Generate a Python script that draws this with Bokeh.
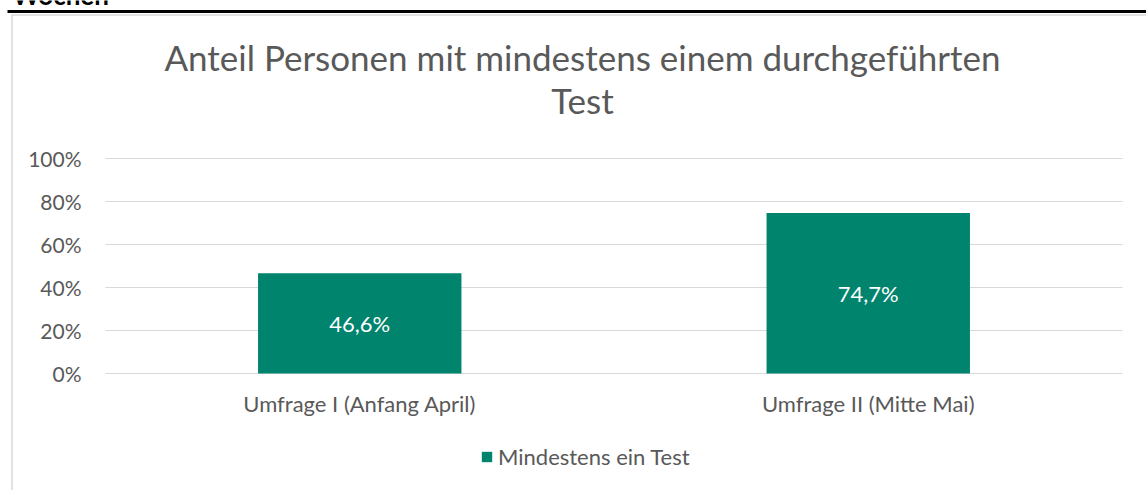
from bokeh.plotting import figure
from bokeh.models import (ColumnDataSource, Range1d, FixedTicker, NumeralTickFormatter,
                          LinearAxis, Legend, LegendItem)
from bokeh.core.properties import value
from bokeh.embed import file_html
from bokeh.resources import INLINE

# ---- data ----
categories = ["Umfrage I (Anfang April)", "Umfrage II (Mitte Mai)"]
values = [0.466, 0.747]
value_labels = ["46,6%", "74,7%"]
series_name = "Mindestens ein Test"
title_lines = ["Anteil Personen mit mindestens einem durchgeführten", "Test"]
heading_fragment = "Wochen"
y_ticks = [0, 0.2, 0.4, 0.6, 0.8, 1.0]

FONT = "Lato"
GREEN = "#00846E"
GREY_TXT = "#595959"
GRID = "#d9d9d9"

# ---- layout (pixels) ----
W, H = 1146, 490
PL, PR, PT, PB = 105, 1122, 158, 373      # plot area edges
n = len(categories)
XPX = (PR - PL) / n                        # pixels per category
YPX = (PB - PT) / 1.0                      # pixels per 100 %


def dx(px):
    return (px - PL) / XPX


def dy(py):
    return (PB - py) / YPX


xs = [i + 0.5 for i in range(n)]
src = ColumnDataSource(dict(x=xs, top=values, mid=[v / 2 for v in values], lab=value_labels))

p = figure(width=W, height=H, x_range=Range1d(dx(0), dx(W)), y_range=Range1d(dy(H), dy(0)),
           output_backend="svg", toolbar_location=None,
           x_axis_location=None, y_axis_location=None,
           min_border=0, min_border_left=0, min_border_right=0,
           min_border_top=0, min_border_bottom=0)
p.outline_line_color = None
p.background_fill_color = "white"
p.border_fill_color = "white"
p.xgrid.visible = False
p.ygrid.visible = False

# decorations: heading rule, chart border
p.segment(x0=[dx(7)], x1=[dx(W)], y0=[dy(11)], y1=[dy(11)], line_color="black", line_width=3)
p.segment(x0=[dx(11.5), dx(11)], x1=[dx(11.5), dx(W)], y0=[dy(14), dy(14.5)], y1=[dy(H), dy(14.5)],
          line_color=GRID, line_width=1.5)
p.text(x=[dx(12)], y=[dy(-6)], text=[heading_fragment], text_font=value("Lato"),
       text_font_style="bold", text_font_size="26px", text_color="black",
       text_align="left", text_baseline="alphabetic")

# gridlines across the plot area
p.segment(x0=[0] * len(y_ticks), x1=[n] * len(y_ticks), y0=y_ticks, y1=y_ticks,
          line_color=GRID, line_width=1)

bars = p.vbar(x="x", top="top", width=0.4, source=src, fill_color=GREEN, line_color=None)
p.text(x="x", y="mid", text="lab", source=src, text_color="white",
       text_font=value(FONT), text_font_size="22px", text_align="center", text_baseline="middle")

# title
p.text(x=[dx(582)] * 2, y=[dy(56), dy(99)], text=title_lines, text_font=value(FONT),
       text_font_size="35px", text_color=GREY_TXT, text_align="center", text_baseline="alphabetic")

# axes (fixed inside the canvas)
yax = LinearAxis(fixed_location=0, ticker=FixedTicker(ticks=y_ticks),
                 formatter=NumeralTickFormatter(format="0%"))
yax.axis_line_color = None
yax.major_tick_line_color = None
yax.minor_tick_line_color = None
yax.major_tick_out = 0
yax.major_tick_in = 0
yax.major_label_standoff = 24
yax.major_label_text_font = FONT
yax.major_label_text_font_size = "21px"
yax.major_label_text_color = GREY_TXT
p.add_layout(yax, "left")

xax = LinearAxis(fixed_location=0, ticker=FixedTicker(ticks=xs),
                 major_label_overrides={x: c for x, c in zip(xs, categories)})
xax.axis_line_color = None
xax.major_tick_line_color = None
xax.minor_tick_line_color = None
xax.major_tick_out = 0
xax.major_tick_in = 0
xax.major_label_standoff = 16
xax.major_label_text_font = FONT
xax.major_label_text_font_size = "22px"
xax.major_label_text_color = GREY_TXT
p.add_layout(xax, "below")

legend = Legend(items=[LegendItem(label=series_name, renderers=[bars])],
                location=(480, H - 470), orientation="horizontal",
                glyph_width=13, glyph_height=13, label_standoff=5,
                label_text_font=FONT, label_text_font_size="22px", label_text_color=GREY_TXT,
                padding=0, margin=0, border_line_color=None, background_fill_alpha=0)
p.add_layout(legend, "center")

open("out.html", "w").write(file_html(p, INLINE))
